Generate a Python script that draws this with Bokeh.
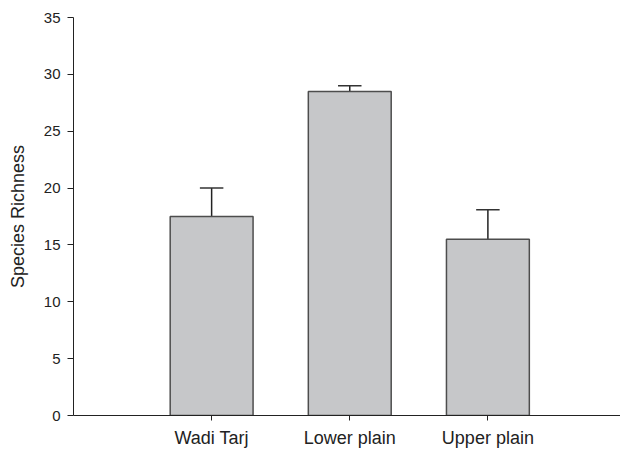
from bokeh.plotting import figure
from bokeh.models import ColumnDataSource, FixedTicker, Range1d
from bokeh.embed import file_html
from bokeh.resources import INLINE

categories = ["Wadi Tarj", "Lower plain", "Upper plain"]
positions = [1, 2, 3]
richness = [17.5, 28.5, 15.5]
error_upper = [20.0, 29.0, 18.1]
y_ticks = [0, 5, 10, 15, 20, 25, 30, 35]

FONT = "Liberation Sans"

src = ColumnDataSource(data=dict(x=positions, top=richness, upper=error_upper))

p = figure(width=620, height=450, output_backend="svg", toolbar_location=None,
           x_range=Range1d(0, 3.96), y_range=Range1d(0, 35),
           min_border_left=73, min_border_right=0, min_border_top=17, min_border_bottom=34)
p.outline_line_color = None
p.grid.grid_line_color = None
p.background_fill_color = "white"
p.border_fill_color = "white"

# error bars (upper only) with caps
p.segment(x0="x", y0="top", x1="x", y1="upper", source=src, line_color="#222222", line_width=1.5)
p.segment(x0=[x - 0.085 for x in positions], y0=error_upper,
          x1=[x + 0.085 for x in positions], y1=error_upper,
          line_color="#333333", line_width=1.5)

p.vbar(x="x", top="top", bottom=0, width=0.6, source=src,
       fill_color="#c6c7c9", line_color="#4d4d4d", line_width=1.5)

p.xaxis.ticker = FixedTicker(ticks=positions)
p.xaxis.major_label_overrides = {pos: cat for pos, cat in zip(positions, categories)}
p.xaxis.minor_tick_line_color = None
p.xaxis.major_tick_in = 0
p.xaxis.major_tick_out = 5
p.xaxis.major_label_standoff = 7
p.xaxis.major_label_text_font = FONT
p.xaxis.major_label_text_font_size = "18px"
p.xaxis.major_label_text_color = "#222222"
p.xaxis.axis_line_color = "#222222"
p.xaxis.major_tick_line_color = "#222222"

p.yaxis.ticker = FixedTicker(ticks=y_ticks)
p.yaxis.minor_tick_line_color = None
p.yaxis.major_tick_in = 0
p.yaxis.major_tick_out = 6
p.yaxis.major_label_standoff = 7
p.yaxis.major_label_text_font = FONT
p.yaxis.major_label_text_font_size = "15px"
p.yaxis.major_label_text_color = "#222222"
p.yaxis.axis_line_color = "#222222"
p.yaxis.major_tick_line_color = "#222222"
p.yaxis.axis_label = "Species Richness"
p.yaxis.axis_label_text_font = FONT
p.yaxis.axis_label_text_font_size = "18px"
p.yaxis.axis_label_text_font_style = "normal"
p.yaxis.axis_label_text_color = "#222222"
p.yaxis.axis_label_standoff = 13

open("out.html", "w").write(file_html(p, INLINE))
